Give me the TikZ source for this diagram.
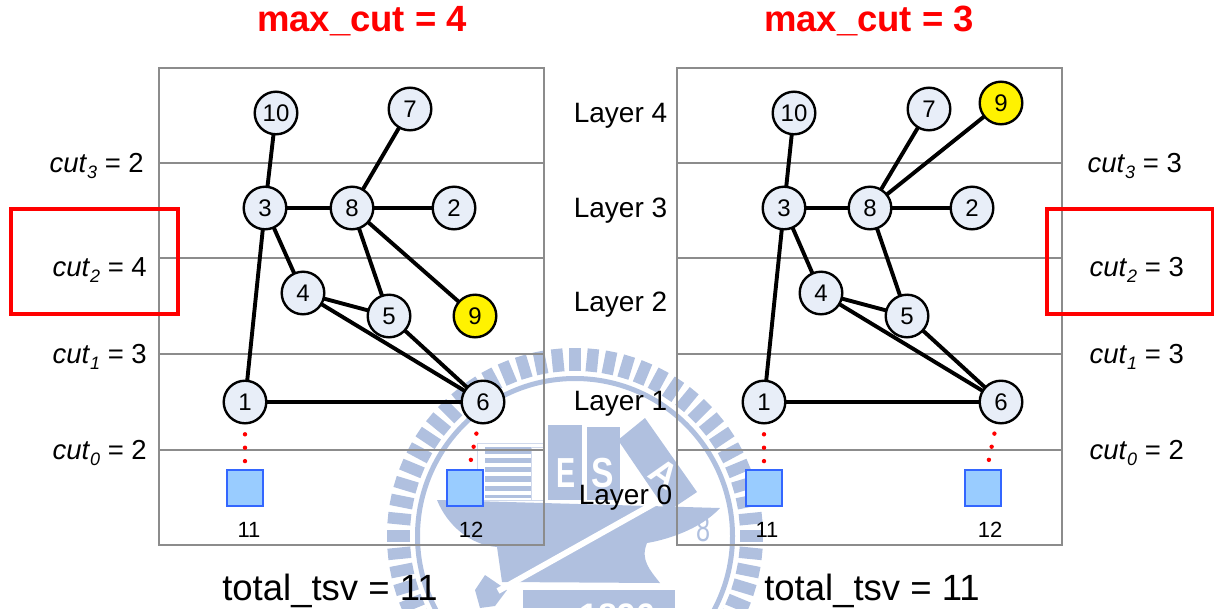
\documentclass[tikz,border=0pt]{standalone}
\usepackage{fontspec}
\setmainfont{Liberation Sans}
\usepackage{xcolor}
\usepackage{tikz}
\definecolor{frameg}{HTML}{8C8C8C}
\definecolor{vtxbg}{HTML}{E8EEF8}
\definecolor{tsvbg}{HTML}{99CCFF}
\definecolor{tsvln}{HTML}{3366FF}
\definecolor{crest}{HTML}{B0C0DF}
\newcommand{\fs}[1]{\fontsize{#1}{#1}\selectfont}
\newcommand{\cutlab}[2]{\textit{cut}\raisebox{-0.22em}{\fs{18}\textit{#1}} = #2}
\tikzset{vtx/.style={circle,draw=black,line width=2.4pt,fill=vtxbg,inner sep=0pt,outer sep=0pt,minimum size=42.6pt,font=\fs{24}},
  hot/.style={vtx,fill=yellow},
  tsv/.style={rectangle,draw=tsvln,line width=1.1pt,fill=tsvbg,inner sep=0pt,outer sep=0pt,minimum size=36pt},
  edge/.style={line width=3.9pt,black},
  dots/.style={red,line width=4.4pt,line cap=round,dash pattern=on 0pt off 13.4pt,dash phase=2.4pt},
  txt/.style={inner sep=0pt,font=\fs{28}},
  cutl/.style={inner sep=0pt,anchor=east,font=\fs{27.5}},
  title/.style={inner sep=0pt,text=red,font=\fs{36.5}\bfseries},
  big/.style={inner sep=0pt,font=\fs{36.5}},
  small/.style={inner sep=0pt,font=\fs{22}},
  alert/.style={draw=red,line width=3.6pt}}

\begin{document}
\begin{tikzpicture}[x=1pt,y=-1pt]
\useasboundingbox (0,0) rectangle (1214,608);
\begin{scope}
\clip (0,0) rectangle (1214,608);
\foreach \k in {0,...,63}{\draw[crest,line width=11.5pt] (575,536)++(\k*5.625:165) -- ++(\k*5.625:23);}
\draw[crest,line width=5pt] (575,536) circle (157.5);
\fill[crest] (437,500) .. controls (447,525) and (470,545) .. (497,547) -- (502,582) -- (660,583) .. controls (650,570) and (640,560) .. (647,543) .. controls (665,540) and (700,530) .. (720,508) -- cycle;
\fill[crest] (475,590) -- (485,575) -- (507,590) -- (495,606) -- (480,608) -- cycle;
\draw[white,line width=6pt] (498,591) -- (655,503);
\fill[crest] (485,447) rectangle (531,498);
\foreach \k in {0,...,4}{\fill[white] (485,454+\k*9.2) rectangle (531,458+\k*9.2);}
\draw[crest!60,line width=1pt] (477,443) rectangle (543,500);
\draw[crest!60,line width=1pt] (531,447) rectangle (543,500);
\fill[crest] (548,425) rectangle (582,500);
\fill[crest] (587,427) rectangle (620,500);
\fill[crest] (645,418) -- (697,492) -- (667,512) -- (618,440) -- cycle;
\node[inner sep=0pt,text=white,font=\fs{42}\bfseries,xscale=0.68] (crestE) at (566,473) {E};
\node[inner sep=0pt,text=white,font=\fs{42}\bfseries,xscale=0.8] (crestS) at (603,473) {S};
\node[inner sep=0pt,text=white,font=\fs{36}\bfseries,rotate=-35] (crestA) at (664,474) {A};
\node[inner sep=0pt,text=crest,font=\fs{36},xscale=0.7] (crest8) at (703,529) {8};
\fill[crest] (523,590) rectangle (675,608);
\node[inner sep=0pt,text=white,font=\fs{34}\bfseries] (crestY) at (617,616) {1896};
\end{scope}
\foreach \off in {0,518}{
  \begin{scope}[xshift=\off pt]
  \foreach \h in {163,258,354}{\draw[frameg,line width=1.5pt] (159,\h) -- (544,\h);}
  \draw[frameg,line width=2.6pt] (159,450) -- (544,450);
  \draw[frameg,line width=1.2pt] (159,68) rectangle (544,545);
  \end{scope}
}
\foreach \n/\x/\y in {10/276/113,7/410/109,3/265/208,8/352/208,2/454/208,4/303/293,5/389/316,1/245/402,6/483/402}{\node[vtx] (a\n) at (\x,\y) {\n};}
\node[hot] (a9) at (475,316) {9};
\foreach \n/\x/\y in {10/794/113,7/929/109,3/784/208,8/870/208,2/972/208,4/821/293,5/907/316,1/764/402,6/1001/402}{\node[vtx] (b\n) at (\x,\y) {\n};}
\node[hot] (b9) at (1001,103) {9};
\foreach \s in {a,b}{
  \foreach \u/\v in {10/3,7/8,3/8,8/2,3/4,3/1,8/5,8/9,4/5,4/6,5/6,1/6}{\draw[edge] (\s\u) -- (\s\v);}
}
\node[tsv] (a11) at (245,488) {};
\node[tsv] (a12) at (465,488) {};
\node[tsv] (b11) at (764,488) {};
\node[tsv] (b12) at (983,488) {};
\draw[dots] (a1) -- (a11);
\draw[dots] (a6) -- (a12);
\draw[dots] (b1) -- (b11);
\draw[dots] (b6) -- (b12);
\node[small] (la11) at (249,530) {11};
\node[small] (la12) at (471,530) {12};
\node[small] (lb11) at (767,530) {11};
\node[small] (lb12) at (990,530) {12};
\node[title] (tleft) at (362,21) {max\_cut = 4};
\node[title] (tright) at (869,21) {max\_cut = 3};
\node[big] (tsvleft) at (330,591) {total\_tsv = 11};
\node[big] (tsvright) at (872,591) {total\_tsv = 11};
\node[txt] (lay4) at (620.5,116) {Layer 4};
\node[txt] (lay3) at (620.5,211) {Layer 3};
\node[txt] (lay2) at (620.5,305) {Layer 2};
\node[txt] (lay1) at (620.5,404) {Layer 1};
\node[txt] (lay0) at (625.5,498) {Layer 0};
\node[cutl] (acut3) at (144,166) {\cutlab{3}{2}};
\node[cutl] (acut2) at (147,270) {\cutlab{2}{4}};
\node[cutl] (acut1) at (147,357) {\cutlab{1}{3}};
\node[cutl] (acut0) at (147,453) {\cutlab{0}{2}};
\node[cutl] (bcut3) at (1182,166) {\cutlab{3}{3}};
\node[cutl] (bcut2) at (1184,270) {\cutlab{2}{3}};
\node[cutl] (bcut1) at (1184,357) {\cutlab{1}{3}};
\node[cutl] (bcut0) at (1184,453) {\cutlab{0}{2}};
\draw[alert] (11,209) rectangle (178,314);
\draw[alert] (1047,209) rectangle (1213,314);
\end{tikzpicture}
\end{document}
